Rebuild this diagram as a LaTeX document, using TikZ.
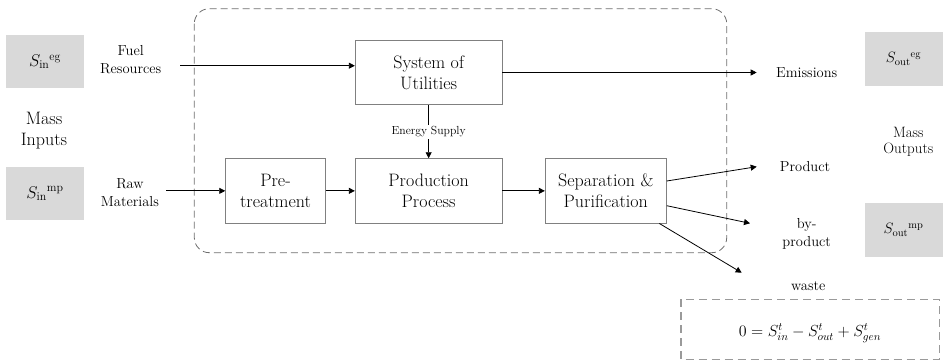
\RequirePackage{fix-cm}
\documentclass[tikz,border=0pt]{standalone}
\usepackage{fontspec}
\usetikzlibrary{arrows.meta}
\definecolor{boxgray}{RGB}{128,128,128}
\definecolor{fillgray}{RGB}{217,217,217}
\definecolor{dashgray}{RGB}{110,110,110}
\tikzset{
  procbox/.style={draw=boxgray, line width=0.9pt, fill=white, align=center, inner sep=0pt,
    font=\fontsize{18}{21}\selectfont},
  graybox/.style={fill=fillgray, inner sep=0pt, minimum width=78pt, minimum height=53.4pt},
  lbl/.style={align=center, inner sep=0pt, font=\fontsize{14.5}{17.7}\selectfont},
  flow/.style={draw=black, line width=0.8pt, -{Triangle[length=6pt,width=6pt]}},
}
\begin{document}
\begin{tikzpicture}[x=1pt,y=-1pt]
\useasboundingbox (0,0) rectangle (944,362);
% system boundary
\draw[dashgray, line width=0.8pt, dash pattern=on 7pt off 4pt, rounded corners=15pt]
  (194.3,8.7) rectangle (726.7,252.7);
% process boxes
\node[procbox, minimum width=146.7pt, minimum height=64.4pt] (sys) at (428.65,72.5) {System of\\Utilities};
\node[procbox, minimum width=99.6pt, minimum height=64.3pt] (pre) at (275.5,190.85) {Pre-\\treatment};
\node[procbox, minimum width=146.7pt, minimum height=64.3pt] (prod) at (428.65,190.85) {Production\\Process};
\node[procbox, minimum width=121pt, minimum height=64.3pt] (sep) at (605.8,190.85) {Separation \&\\Purification};
% gray boxes
\node[graybox] (sineg) at (45,61.7) {\fontsize{17}{20}\selectfont $S_{\mathrm{in}}{}^{\mathrm{eg}}$};
\node[graybox] (sinmp) at (45,193.5) {\fontsize{17}{20}\selectfont $S_{\mathrm{in}}{}^{\mathrm{mp}}$};
\node[graybox] (souteg) at (903.5,59) {\fontsize{15}{18}\selectfont $S_{\mathrm{out}}{}^{\mathrm{eg}}$};
\node[graybox] (soutmp) at (903.5,230) {\fontsize{15}{18}\selectfont $S_{\mathrm{out}}{}^{\mathrm{mp}}$};
% side labels
\node[align=center, inner sep=0pt, font=\fontsize{18}{21}\selectfont] (min) at (44,131) {Mass\\Inputs};
\node[align=center, inner sep=0pt, font=\fontsize{15}{16.5}\selectfont] (mout) at (908.3,142) {Mass\\Outputs};
\node[lbl] (fuel) at (130.7,59.5) {Fuel\\Resources};
\node[lbl] (raw) at (130,192.5) {Raw\\Materials};
\node[lbl] (emis) at (806.7,72.7) {Emissions};
\node[lbl] (produ) at (805,166.7) {Product};
\node[lbl] (byp) at (806.7,234) {by-\\product};
\node[lbl] (waste) at (808.3,285.7) {waste};
% connector end points
\coordinate (fuelS) at (180,65.7);
\coordinate (rawS) at (166,190.85);
\coordinate (emisE) at (756.7,72.5);
\coordinate (prodE) at (756.7,166.7);
\coordinate (bypE) at (750,223.3);
\coordinate (wasteE) at (741.7,272.7);
% connectors
\draw[flow] (fuelS) -- (fuelS -| sys.west);
\draw[flow] (sys.east) -- (emisE);
\draw[flow] (rawS) -- (pre.west);
\draw[flow] (pre.east) -- (prod.west);
\draw[flow] (prod.east) -- (sep.west);
\draw[flow] (sys.south) -- node[fill=white, inner sep=1.5pt, font=\fontsize{11.7}{13}\selectfont] (es) {Energy Supply} (prod.north);
\draw[flow] ([yshift=9.85pt]sep.east) -- (prodE);
\draw[flow] ([yshift=-14.85pt]sep.east) -- (bypE);
\draw[flow] ([xshift=53.5pt]sep.south) -- (wasteE);
% balance equation
\draw[boxgray!80, line width=1.6pt, dash pattern=on 8pt off 5pt] (680.7,299.3) rectangle (939.3,359.3);
\node[inner sep=0pt, font=\fontsize{16}{19}\selectfont] (eq) at (810,333) {$0 = S_{in}^{t} - S_{out}^{t} + S_{gen}^{t}$};
\end{tikzpicture}
\end{document}
